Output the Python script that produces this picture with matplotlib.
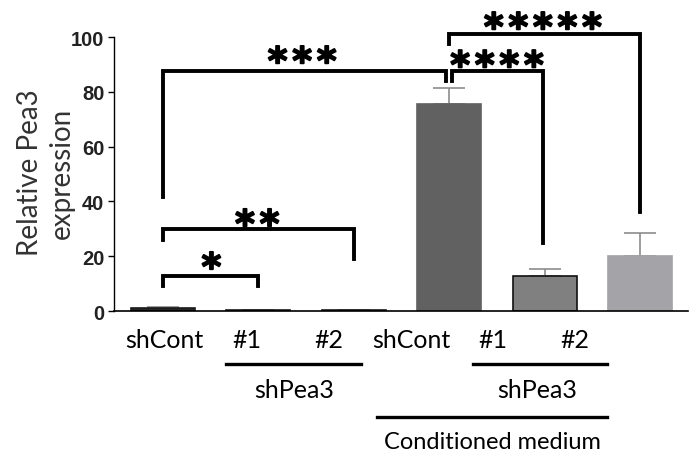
import numpy as np
import matplotlib
matplotlib.use('Agg')
import matplotlib.pyplot as plt
import matplotlib.patheffects as pe

# bar values
values = [1.2, 0.4, 0.4, 75.5, 12.8, 20.0]
errors = [0.2, 0.1, 0.1, 6.0, 2.5, 8.5]
bar_colors = ['#262626', '#262626', '#262626', '#616161', '#808080', '#a3a3a8']
bar_edges = ['#1a1a1a', '#1a1a1a', '#1a1a1a', '#616161', '#111111', '#a3a3a8']
tick_labels = ['shCont', '#1', '#2', 'shCont', '#1', '#2']
yticks = [0, 20, 40, 60, 80, 100]

# significance brackets: x1, x2, top, left foot, right foot, stars, star x, star y
brackets = [
    (0.0, 1.0, 12.8, 9.0, 9.0, 1, 0.51, 15.1),
    (0.0, 2.0, 30.0, 26.0, 19.0, 2, 0.99, 30.8),
    (0.0, 2.97, 87.6, 41.6, 84.0, 3, 1.46, 90.3),
    (3.03, 3.98, 87.6, 84.0, 25.0, 4, 3.50, 88.8),
    (3.0, 5.0, 101.0, 97.5, 36.0, 5, 3.98, 102.7),
]
star_step = 0.257


def main():
    fig = plt.figure(figsize=(6.95, 4.6), dpi=100)
    ax = fig.add_axes([0.164, 0.3217, 0.826, 0.5953])

    x = np.arange(len(values))
    ax.bar(x, values, width=0.67, color=bar_colors, edgecolor=bar_edges,
           linewidth=1.2, zorder=2)
    ax.errorbar(x, values, yerr=[np.zeros(len(errors)), errors], fmt='none',
                ecolor='#8c8c8c', elinewidth=1.2, capsize=11.5, capthick=1.2, zorder=1)

    ax.set_xlim(-0.51, 5.5)
    ax.set_ylim(0, 100)
    ax.set_yticks(yticks)
    ax.set_yticklabels([str(t) for t in yticks], fontweight='bold',
                       fontsize=14.5, family='Liberation Sans', color='#222222')
    ax.tick_params(axis='y', length=4, width=1, pad=3, direction='out')
    ax.spines['top'].set_visible(False)
    ax.spines['right'].set_visible(False)
    ax.spines['left'].set_linewidth(1)
    ax.spines['bottom'].set_linewidth(1.2)

    # category labels sit evenly spaced, not right under the bars
    label_pos = 0.02 + np.arange(len(tick_labels)) * 0.86
    ax.set_xticks(label_pos)
    ax.set_xticklabels(tick_labels, fontsize=18, family='Lato')
    ax.tick_params(axis='x', length=0, pad=12)

    heavy = [pe.withStroke(linewidth=1.3, foreground='black')]
    for x1, x2, top, f1, f2, n, sx, sy in brackets:
        ax.plot([x1, x1, x2, x2], [f1, top, top, f2], color='black', lw=2.8,
                solid_joinstyle='miter', clip_on=False, zorder=3)
        for k in range(n):
            ax.text(sx + (k - (n - 1) / 2) * star_step, sy, '*', ha='center',
                    va='center', fontsize=27, fontweight='bold',
                    family='DejaVu Sans', clip_on=False, path_effects=heavy)

    tr = ax.get_xaxis_transform()
    ax.plot([0.66, 2.08], [-0.193, -0.193], color='black', lw=2.4,
            transform=tr, clip_on=False)
    ax.text(1.38, -0.285, 'shPea3', ha='center', va='center', fontsize=18,
            family='Lato', transform=tr)
    ax.plot([3.25, 4.65], [-0.193, -0.193], color='black', lw=2.4,
            transform=tr, clip_on=False)
    ax.text(3.92, -0.285, 'shPea3', ha='center', va='center', fontsize=18,
            family='Lato', transform=tr)
    ax.plot([2.24, 4.65], [-0.387, -0.387], color='black', lw=2.4,
            transform=tr, clip_on=False)
    ax.text(3.45, -0.478, 'Conditioned medium', ha='center', va='center',
            fontsize=17, family='Lato', transform=tr)

    fig.text(46 / 695, 1 - 173 / 460, 'Relative Pea3\nexpression', rotation=90,
             ha='center', va='center', fontsize=20, family='Lato',
             linespacing=1.3, color='#333333')

    fig.savefig('out.png', dpi=100)


if __name__ == "__main__":
    main()
